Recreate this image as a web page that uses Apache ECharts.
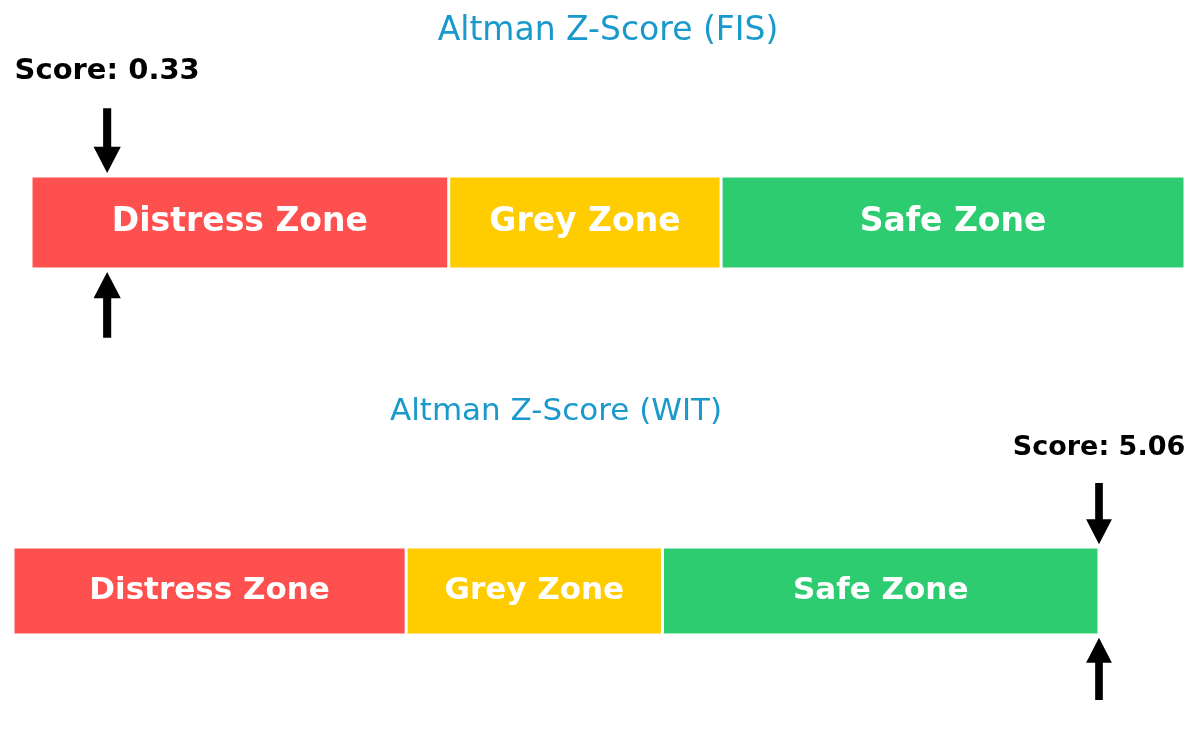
<!DOCTYPE html>
<html>
<head>
<meta charset="utf-8">
<title>Altman Z-Score</title>
<script src="https://cdn.jsdelivr.net/npm/echarts@6/dist/echarts.min.js"></script>
<style>
    html, body { margin: 0; padding: 0; background: #fff; }
    .echarts { width: 1200px; height: 741px; }
</style>
</head>
<body>
<div class="echarts"></div>
<script>
// data
var companies = ['FIS', 'WIT'];
var zoneNames = ['Distress Zone', 'Grey Zone', 'Safe Zone'];
var zoneEdges = [0, 1.81, 2.99, 5];
var scores = [0.33, 5.06];

// styles
var zoneColors = ['#ff5050', '#ffcc00', '#2ecc71'];
var titleColor = '#1a99cc';
var font = 'DejaVu Sans';

// each panel: grid box and font sizes (bottom one is drawn a bit smaller)
var panels = [
    { left: 31, right: 15, top: 176, height: 93, zoneFont: 33, titleFont: 33, scoreFont: 29, nameGap: 128 },
    { left: 13, right: 101, top: 547, height: 88, zoneFont: 31, titleFont: 31, scoreFont: 27, nameGap: 120 }
];

function arrowItem(params, api) {
    var pt = api.coord([api.value(0), api.value(1)]);
    var band = api.size([0, 1])[1];
    var s = band / 92;
    var x = pt[0];
    var top = pt[1] - band / 2;
    var bottom = pt[1] + band / 2;
    var hw = 13.5 * s, sw = 4 * s;

    // down arrow above the bar
    var tip1 = top - 3 * s, base1 = tip1 - 26 * s, tail1 = tip1 - 64 * s;
    // up arrow below the bar
    var tip2 = bottom + 3 * s, base2 = tip2 + 26 * s, tail2 = tip2 + 65 * s;

    return {
        type: 'group',
        children: [{
            type: 'polygon',
            shape: { points: [[x - sw, tail1], [x + sw, tail1], [x + sw, base1], [x + hw, base1], [x, tip1], [x - hw, base1], [x - sw, base1]] },
            style: { fill: '#000' }
        }, {
            type: 'polygon',
            shape: { points: [[x - sw, tail2], [x + sw, tail2], [x + sw, base2], [x + hw, base2], [x, tip2], [x - hw, base2], [x - sw, base2]] },
            style: { fill: '#000' }
        }, {
            type: 'text',
            x: x,
            y: tail1 - 36 * s,
            style: {
                text: 'Score: ' + api.value(2).toFixed(2),
                fill: '#000',
                font: 'bold ' + panels[api.value(3)].scoreFont + 'px "' + font + '"',
                align: 'center',
                verticalAlign: 'middle'
            }
        }]
    };
}

var grid = [], xAxis = [], yAxis = [], series = [];

companies.forEach(function(name, g) {
    var p = panels[g];
    grid.push({ left: p.left, right: p.right, top: p.top, height: p.height });
    xAxis.push({
        type: 'value',
        gridIndex: g,
        min: zoneEdges[0],
        max: zoneEdges[zoneEdges.length - 1],
        position: 'top',
        name: 'Altman Z-Score (' + name + ')',
        nameLocation: 'middle',
        nameGap: p.nameGap,
        nameTextStyle: { color: titleColor, fontSize: p.titleFont, fontFamily: font },
        axisLine: { show: false },
        axisTick: { show: false },
        axisLabel: { show: false },
        splitLine: { show: false }
    });
    yAxis.push({
        type: 'category',
        gridIndex: g,
        data: [name],
        show: false
    });

    zoneNames.forEach(function(zone, i) {
        series.push({
            type: 'bar',
            name: zone,
            xAxisIndex: g,
            yAxisIndex: g,
            stack: 'zones' + g,
            barWidth: '100%',
            silent: true,
            itemStyle: { color: zoneColors[i], borderColor: '#fff', borderWidth: 1.5 },
            label: {
                show: true,
                position: 'inside',
                formatter: zone,
                color: '#fff',
                fontWeight: 'bold',
                fontSize: p.zoneFont,
                fontFamily: font
            },
            data: [+(zoneEdges[i + 1] - zoneEdges[i]).toFixed(2)]
        });
    });

    // marker sits at the score, kept inside the gauge
    var pos = Math.min(scores[g], zoneEdges[zoneEdges.length - 1]);
    series.push({
        type: 'custom',
        xAxisIndex: g,
        yAxisIndex: g,
        silent: true,
        z: 5,
        renderItem: arrowItem,
        encode: { x: 0, y: 1 },
        data: [[pos, 0, scores[g], g]]
    });
});

var myChart = echarts.init(document.querySelector('.echarts'));
var option = {
    backgroundColor: '#fff',
    animation: false,
    grid: grid,
    xAxis: xAxis,
    yAxis: yAxis,
    series: series
};
myChart.setOption(option);
</script>
</body>
</html>
